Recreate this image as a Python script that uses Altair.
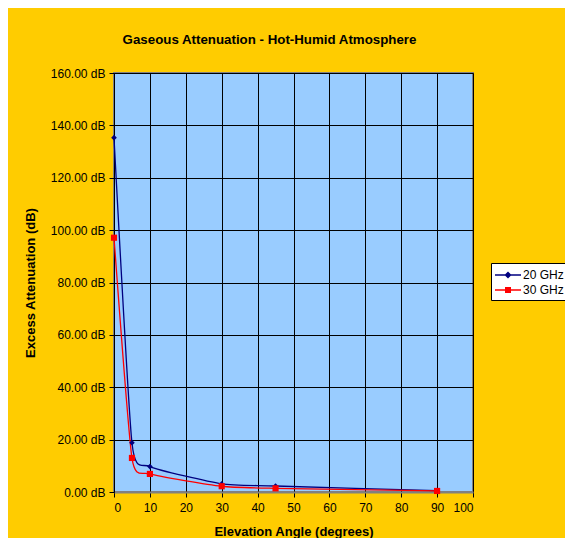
import altair as alt
import pandas as pd

angles = [0, 5, 10, 30, 45, 90]
ghz20 = [135.3, 18.8, 9.7, 3.1, 2.3, 0.5]
ghz30 = [97.1, 13.0, 6.9, 2.2, 1.4, 0.4]
series = ["20 GHz", "30 GHz"]
colors = ["#000080", "#FF0000"]

rows = []
for a, v in zip(angles, ghz20):
    rows.append({"angle": a, "atten": v, "series": series[0]})
for a, v in zip(angles, ghz30):
    rows.append({"angle": a, "atten": v, "series": series[1]})
df = pd.DataFrame(rows)

diamond = "M0,-1L1,0L0,1L-1,0Z"
leg_diamond = "M-1,-0.08L2.25,-0.08L2.25,0.08L-1,0.08Z M0.625,-0.44L1.065,0L0.625,0.44L0.185,0Z"
leg_square = "M-1,-0.08L2.25,-0.08L2.25,0.08L-1,0.08Z M0.25,-0.375L1.0,-0.375L1.0,0.375L0.25,0.375Z"

font = "Liberation Sans"

x_enc = alt.X("angle:Q", scale=alt.Scale(domain=[0, 100], nice=False),
              axis=alt.Axis(values=list(range(0, 101, 10)), title="Elevation Angle (degrees)",
                            labelOverlap=False,
                            domainColor="#808080", domainWidth=2, tickColor="#000000",
                            tickSize=5, labelPadding=5, titlePadding=12))
y_enc = alt.Y("atten:Q", scale=alt.Scale(domain=[0, 160], nice=False),
              axis=alt.Axis(values=list(range(0, 161, 20)), title="Excess Attenuation (dB)",
                            labelExpr="format(datum.value, '.2f') + ' dB'",
                            labelOverlap=False,
                            domainColor="#000000", tickColor="#000000", tickSize=5,
                            labelPadding=4, titlePadding=13))
color_scale = alt.Scale(domain=series, range=colors)

base = alt.Chart(df)

legend_props = dict(title=None, orient="none", legendX=377, legendY=190,
                    symbolOpacity=1, symbolSize=256, symbolStrokeWidth=0,
                    labelFontSize=12, labelFont=font, labelColor="#000000",
                    strokeColor="#000000", fillColor="#FFFFFF",
                    padding=4, rowPadding=1, labelOffset=12)

legend_layer = base.mark_point(filled=True, opacity=0).encode(
    x=x_enc, y=y_enc,
    color=alt.Color("series:N", scale=color_scale, legend=alt.Legend(**legend_props)),
    shape=alt.Shape("series:N", scale=alt.Scale(domain=series, range=[leg_diamond, leg_square]),
                    legend=alt.Legend(**legend_props)),
)

lines = base.mark_line(interpolate="cardinal", tension=0.45, strokeWidth=1.3).encode(
    x=x_enc, y=y_enc,
    color=alt.Color("series:N", scale=color_scale, legend=None),
)

pts20 = base.transform_filter(alt.datum.series == series[0]).mark_point(
    shape=diamond, filled=True, size=32, opacity=1).encode(
    x=x_enc, y=y_enc,
    color=alt.Color("series:N", scale=color_scale, legend=None),
)
pts30 = base.transform_filter(alt.datum.series == series[1]).mark_point(
    shape="square", filled=True, size=38, opacity=1).encode(
    x=x_enc, y=y_enc,
    color=alt.Color("series:N", scale=color_scale, legend=None),
)

chart = alt.layer(legend_layer, lines, pts20, pts30).properties(
    width=359, height=419,
    title=alt.TitleParams("Gaseous Attenuation - Hot-Humid Atmosphere", fontSize=13.3,
                          font=font, fontWeight="bold", color="#000000", offset=21, dx=-24),
    background="#FFCC00",
    padding={"left": 106, "top": 65, "right": 92, "bottom": 46},
    autosize=alt.AutoSizeParams(type="none"),
).configure_view(
    fill="#99CCFF", stroke="#808080", strokeWidth=2
).configure_axis(
    grid=True, gridColor="#000000", gridOpacity=1, gridWidth=1,
    labelFont=font, labelFontSize=12, labelColor="#000000",
    titleFont=font, titleFontSize=13, titleFontWeight="bold", titleColor="#000000",
)

chart.save("out.html", embed_options={"renderer": "svg", "actions": False})
